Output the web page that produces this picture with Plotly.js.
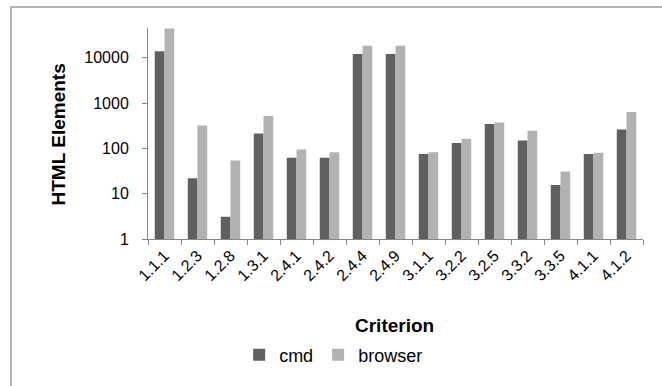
<!DOCTYPE html>
<html>
<head>
<meta charset="utf-8">
<script src="https://cdn.plot.ly/plotly-3.0.1.min.js"></script>
<style>
html, body { margin: 0; padding: 0; background: #fff; }
#wrap { position: relative; width: 662px; height: 386px; overflow: hidden; }
#chart { position: absolute; left: 0; top: 0; width: 662px; height: 386px; }
#frame { position: absolute; left: 10px; top: 6px; width: 660px; height: 390px;
  border-top: 2px solid #b4b4b4; border-left: 2px solid #b4b4b4; pointer-events: none; }
</style>
</head>
<body>
<div id="wrap">
<div id="chart"></div>
<div id="frame"></div>
</div>
<script>
var categories = ["1.1.1","1.2.3","1.2.8","1.3.1","2.4.1","2.4.2","2.4.4","2.4.9","3.1.1","3.2.2","3.2.5","3.3.2","3.3.5","4.1.1","4.1.2"];
var cmdValues = [13900, 22, 3.1, 214, 62, 62, 12100, 12100, 75, 131, 346, 150, 15.6, 75, 261];
var browserValues = [44000, 319, 54, 517, 94, 82, 18400, 18400, 82, 163, 371, 244, 31, 80, 633];
var yTickValues = [1, 10, 100, 1000, 10000];
var yTickLabels = ["1", "10", "100", "1000", "10000"];

var fontFam = "Liberation Sans, Arial, sans-serif";

var traces = [
  { type: "bar", name: "cmd", x: categories, y: cmdValues,
    marker: { color: "#606060" } },
  { type: "bar", name: "browser", x: categories, y: browserValues,
    marker: { color: "#b2b2b2" } }
];

var layout = {
  width: 662, height: 386,
  margin: { l: 148, r: 19, t: 28, b: 145, pad: 0 },
  paper_bgcolor: "#ffffff", plot_bgcolor: "#ffffff",
  barmode: "group", bargap: 0.41, bargroupgap: 0,
  font: { family: fontFam, color: "#000000" },
  showlegend: true,
  legend: { orientation: "h", x: 0.375, xanchor: "center", y: -0.55, yanchor: "middle",
    font: { size: 18, family: fontFam, color: "#000" }, itemwidth: 30, traceorder: "normal" },
  xaxis: {
    type: "category", tickangle: -45, tickson: "boundaries",
    ticks: "outside", ticklen: 5, tickcolor: "#868686", tickwidth: 1,
    showline: true, linecolor: "#868686", linewidth: 1,
    showgrid: false, zeroline: false,
    tickfont: { size: 16, family: fontFam, color: "#000" },
    fixedrange: true
  },
  yaxis: {
    type: "log", range: [0, 4.656],
    tickvals: yTickValues, ticktext: yTickLabels,
    ticks: "outside", ticklen: 5, tickcolor: "#868686", tickwidth: 1,
    showline: true, linecolor: "#868686", linewidth: 1,
    showgrid: false, zeroline: false,
    tickfont: { size: 16, family: fontFam, color: "#000" },
    ticklabelstandoff: 10,
    fixedrange: true
  },
  annotations: [
    { text: "<b>Criterion</b>", xref: "paper", yref: "paper", x: 0.497, y: -0.408,
      xanchor: "center", yanchor: "middle", showarrow: false,
      font: { size: 19, family: fontFam, color: "#000" } },
    { text: "<b>HTML Elements</b>", xref: "paper", yref: "paper", x: -0.18, y: 0.495,
      xanchor: "center", yanchor: "middle", showarrow: false, textangle: -90,
      font: { size: 19, family: fontFam, color: "#000" } }
  ]
};

Plotly.newPlot("chart", traces, layout, { displayModeBar: false, staticPlot: true });
</script>
</body>
</html>
